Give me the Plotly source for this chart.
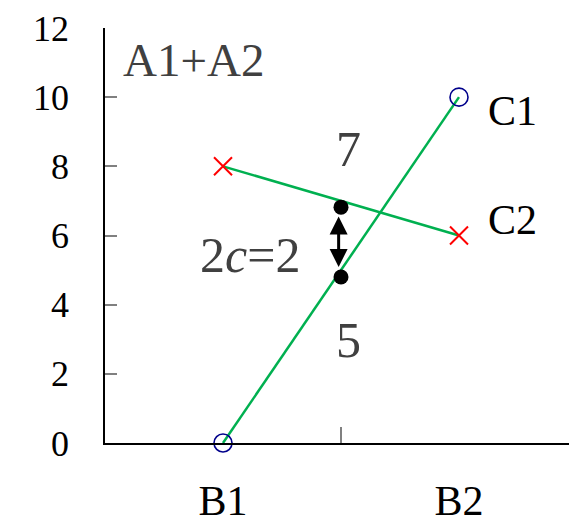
import plotly.graph_objects as go

categories = ["B1", "B2"]
c1_values = [0, 10]
c2_values = [8, 6]
gap_values = [6.82, 4.80]  # black dots at middle position
y_ticks = [0, 2, 4, 6, 8, 10, 12]

xpos = [i + 0.5 for i in range(len(categories))]
xmid = sum(xpos) / len(xpos)

FONT = "Liberation Serif"
GRAY = "#404040"
GREEN = "#00B050"

fig = go.Figure()

fig.add_trace(go.Scatter(
    x=xpos, y=c1_values, mode="lines+markers",
    line=dict(color=GREEN, width=2.5),
    marker=dict(symbol="circle-open", size=18, color="#00008B", line=dict(width=1.6, color="#00008B")),
    showlegend=False, hoverinfo="skip", cliponaxis=False))

fig.add_trace(go.Scatter(
    x=xpos, y=c2_values, mode="lines+markers",
    line=dict(color=GREEN, width=2.5),
    marker=dict(symbol="x-thin", size=18, color="red", line=dict(width=2, color="red")),
    showlegend=False, hoverinfo="skip", cliponaxis=False))

fig.add_trace(go.Scatter(
    x=[xmid, xmid], y=gap_values, mode="markers",
    marker=dict(symbol="circle", size=15, color="black"),
    showlegend=False, hoverinfo="skip"))

# double-headed arrow between dots
fig.add_annotation(
    x=xmid - 0.01, y=gap_values[1] + 0.29, ax=xmid - 0.01, ay=gap_values[0] - 0.23,
    xref="x", yref="y", axref="x", ayref="y", text="",
    showarrow=True, arrowhead=2, startarrowhead=2, arrowside="end+start",
    arrowwidth=3, arrowsize=1.2, startarrowsize=1.2, arrowcolor="black")

def label(x, y, text, size, color):
    fig.add_annotation(x=x, y=y, xref="x", yref="y", text=text, showarrow=False,
                       font=dict(family=FONT, size=size, color=color),
                       xanchor="center", yanchor="middle")

label(0.373, 11.08, "A1+A2", 47, GRAY)
label(1.03, 8.5, "7", 50, GRAY)
label(1.03, 2.98, "5", 50, GRAY)
label(0.615, 5.44, "2<i>c</i>=2", 50, GRAY)
label(1.725, 9.6, "C1", 42, "black")
label(1.725, 6.45, "C2", 42, "black")

fig.update_xaxes(
    range=[0, 2], tickmode="array", tickvals=xpos, ticktext=categories,
    ticks="", showgrid=False, zeroline=False, automargin=False,
    showline=True, linecolor="black", linewidth=1.5,
    tickfont=dict(family=FONT, size=42, color="black"),
    ticklabelstandoff=20,
    minor=dict(tickmode="array", tickvals=[xmid], ticks="inside", ticklen=16,
               tickcolor="#808080", tickwidth=1.5, showgrid=False),
)
fig.update_yaxes(
    range=[0, 12], tickmode="array", tickvals=y_ticks,
    ticks="inside", ticklen=12, tickcolor="#808080", tickwidth=1.5,
    showgrid=False, zeroline=False, automargin=False,
    showline=True, linecolor="black", linewidth=1.5,
    tickfont=dict(family=FONT, size=36, color="black"),
    ticklabelstandoff=27,
)

# page body has an 8px default margin, so margins are shifted to compensate
fig.update_layout(
    width=577, height=519,
    margin=dict(l=97, r=8, t=20, b=84),
    plot_bgcolor="white", paper_bgcolor="white",
)

fig.write_html("out.html")
